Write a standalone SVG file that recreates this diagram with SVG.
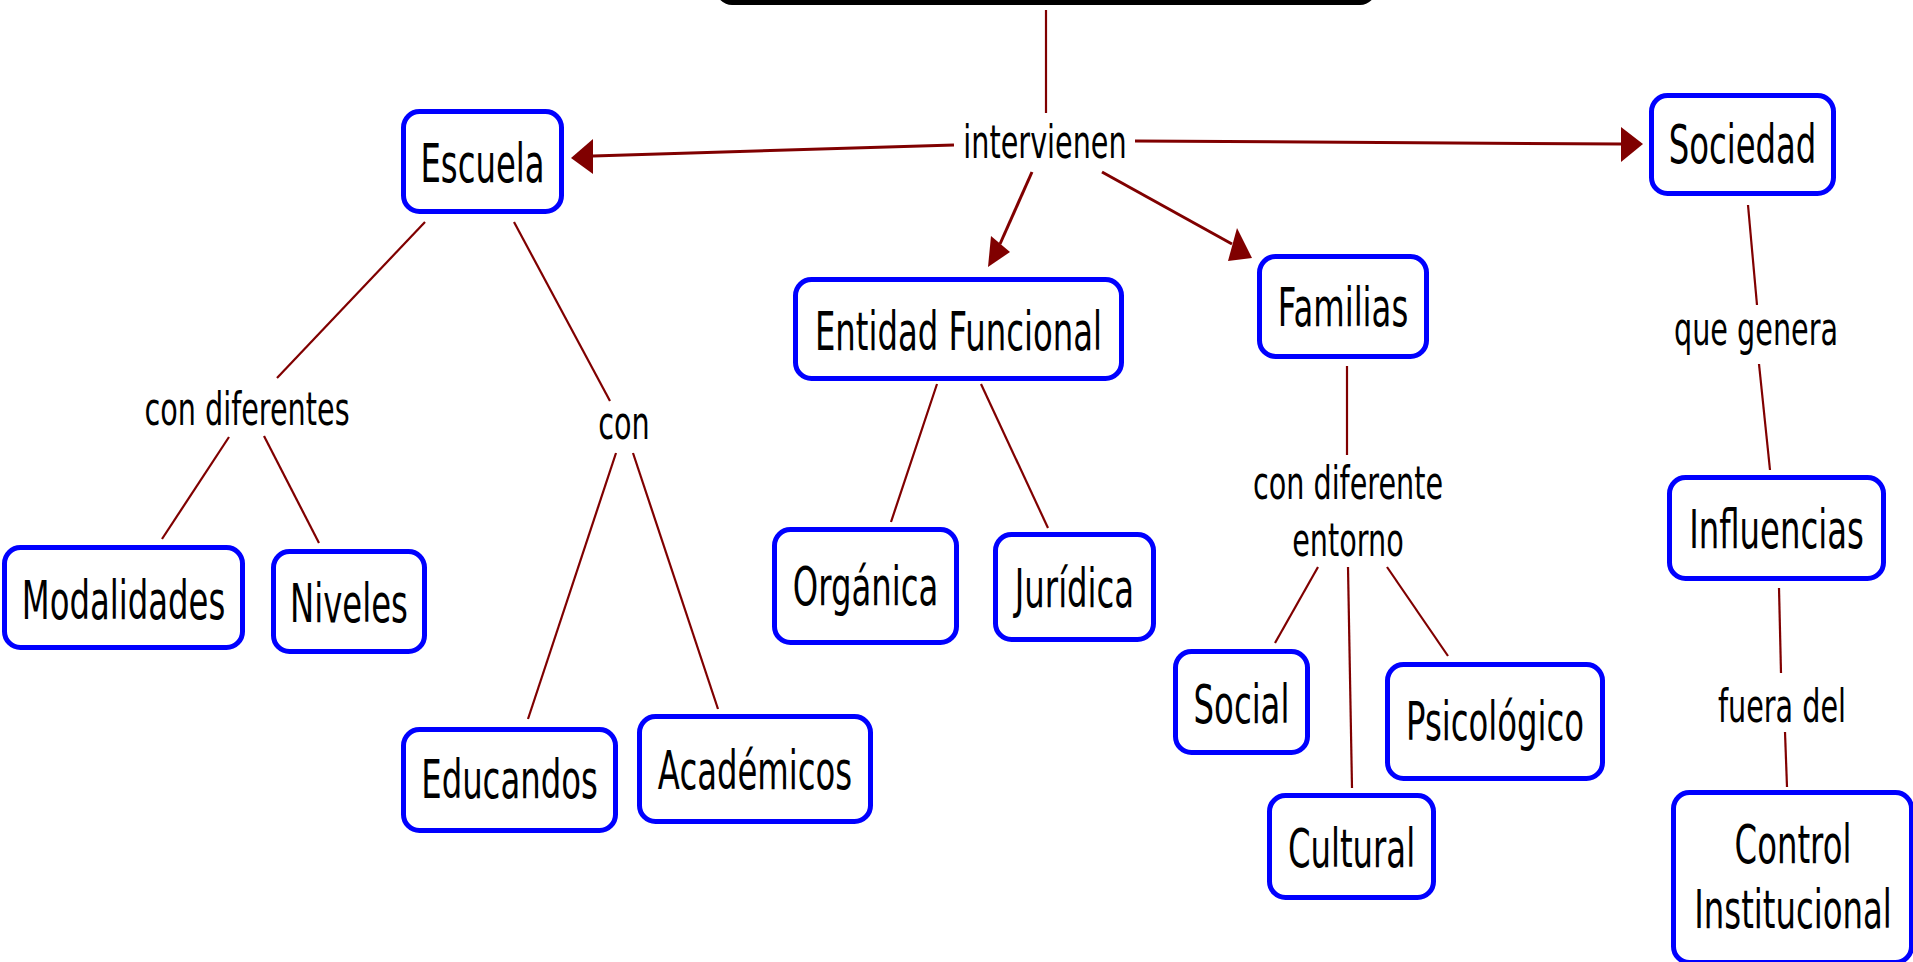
<svg xmlns="http://www.w3.org/2000/svg" width="1913" height="962" viewBox="0 0 1913 962">
<style>
.node rect{fill:#fff;stroke:#0000ff;stroke-width:5}
.nt{font-family:"DejaVu Sans",Verdana,sans-serif;font-size:53px;fill:#000;text-anchor:middle}
.lt{font-family:"DejaVu Sans",Verdana,sans-serif;font-size:47px;fill:#000;text-anchor:middle}
.c line{stroke:#800000;stroke-width:2.2;fill:none}
.c line.a{stroke-width:3}
.ah{fill:#800000;stroke:none}
</style>
<rect width="1913" height="962" fill="#fff"/>
<g id="connectors" class="c">
<line x1="1046" y1="10" x2="1046" y2="113"/>
<line class="a" x1="954" y1="145" x2="593" y2="156"/>
<polygon class="ah" points="571,158 593,139 593,174"/>
<line class="a" x1="1135" y1="141" x2="1621" y2="144"/>
<polygon class="ah" points="1643,144 1621,127 1621,162"/>
<line class="a" x1="1032" y1="172" x2="1000" y2="244"/>
<polygon class="ah" points="988,267 991,236 1010,252"/>
<line class="a" x1="1102" y1="172" x2="1232" y2="244"/>
<polygon class="ah" points="1252,258 1228,261 1237,228"/>
<line x1="425" y1="222" x2="277" y2="378"/>
<line x1="514" y1="222" x2="610" y2="401"/>
<line x1="229" y1="437" x2="162" y2="539"/>
<line x1="264" y1="436" x2="319" y2="543"/>
<line x1="616" y1="453" x2="528" y2="719"/>
<line x1="633" y1="453" x2="718" y2="709"/>
<line x1="937" y1="384" x2="891" y2="522"/>
<line x1="981" y1="384" x2="1048" y2="528"/>
<line x1="1347" y1="366" x2="1347" y2="455"/>
<line x1="1318" y1="567" x2="1275" y2="643"/>
<line x1="1348" y1="567" x2="1352" y2="788"/>
<line x1="1387" y1="567" x2="1448" y2="656"/>
<line x1="1748" y1="205" x2="1757" y2="305"/>
<line x1="1759" y1="364" x2="1770" y2="470"/>
<line x1="1779" y1="588" x2="1781" y2="673"/>
<line x1="1785" y1="732" x2="1787" y2="787"/>
</g>
<g id="root"><rect x="716" y="-60" width="660" height="65" rx="16" fill="#000"/></g>
<g id="escuela" class="node"><rect x="403.5" y="111.5" width="158" height="100" rx="16"/><text class="nt" transform="translate(482.5 182) scale(0.61 1)">Escuela</text></g>
<g id="sociedad" class="node"><rect x="1651.5" y="95.5" width="182" height="98" rx="16"/><text class="nt" transform="translate(1742.5 163) scale(0.61 1)">Sociedad</text></g>
<g id="entidad" class="node"><rect x="795.5" y="279.5" width="326" height="99" rx="16"/><text class="nt" transform="translate(958.5 350) scale(0.61 1)">Entidad Funcional</text></g>
<g id="familias" class="node"><rect x="1259.5" y="256.5" width="167" height="100" rx="16"/><text class="nt" transform="translate(1343 326) scale(0.61 1)">Familias</text></g>
<g id="modalidades" class="node"><rect x="4.5" y="547.5" width="238" height="100" rx="16"/><text class="nt" transform="translate(123.5 619) scale(0.61 1)">Modalidades</text></g>
<g id="niveles" class="node"><rect x="273.5" y="551.5" width="151" height="100" rx="16"/><text class="nt" transform="translate(349 622) scale(0.61 1)">Niveles</text></g>
<g id="educandos" class="node"><rect x="403.5" y="729.5" width="212" height="101" rx="16"/><text class="nt" transform="translate(509.5 798) scale(0.61 1)">Educandos</text></g>
<g id="academicos" class="node"><rect x="639.5" y="716.5" width="231" height="105" rx="16"/><text class="nt" transform="translate(755 789) scale(0.61 1)">Académicos</text></g>
<g id="organica" class="node"><rect x="774.5" y="529.5" width="182" height="113" rx="16"/><text class="nt" transform="translate(865.5 605) scale(0.61 1)">Orgánica</text></g>
<g id="juridica" class="node"><rect x="995.5" y="534.5" width="158" height="105" rx="16"/><text class="nt" transform="translate(1074.5 607) scale(0.61 1)">Jurídica</text></g>
<g id="social" class="node"><rect x="1175.5" y="651.5" width="132" height="101" rx="16"/><text class="nt" transform="translate(1241.5 723) scale(0.61 1)">Social</text></g>
<g id="psicologico" class="node"><rect x="1387.5" y="664.5" width="215" height="114" rx="16"/><text class="nt" transform="translate(1495 740) scale(0.61 1)">Psicológico</text></g>
<g id="cultural" class="node"><rect x="1269.5" y="795.5" width="164" height="102" rx="16"/><text class="nt" transform="translate(1351.5 867) scale(0.61 1)">Cultural</text></g>
<g id="influencias" class="node"><rect x="1669.5" y="477.5" width="214" height="101" rx="16"/><text class="nt" transform="translate(1776.5 548) scale(0.61 1)">Influencias</text></g>
<g id="control" class="node"><rect x="1673.5" y="792.5" width="238" height="170" rx="16"/><text class="nt" transform="translate(1793 0) scale(0.61 1)"><tspan x="0" y="863">Control</tspan><tspan x="0" y="928">Institucional</tspan></text></g>
<g id="lbl-intervienen"><text class="lt" transform="translate(1045 158) scale(0.61 1)">intervienen</text></g>
<g id="lbl-con-diferentes"><text class="lt" transform="translate(247 425) scale(0.61 1)">con diferentes</text></g>
<g id="lbl-con"><text class="lt" transform="translate(624 439) scale(0.61 1)">con</text></g>
<g id="lbl-con-diferente-entorno"><text class="lt" transform="translate(1348 0) scale(0.61 1)"><tspan x="0" y="499">con diferente</tspan><tspan x="0" y="556">entorno</tspan></text></g>
<g id="lbl-que-genera"><text class="lt" transform="translate(1756 345) scale(0.61 1)">que genera</text></g>
<g id="lbl-fuera-del"><text class="lt" transform="translate(1782 722) scale(0.61 1)">fuera del</text></g>
</svg>
